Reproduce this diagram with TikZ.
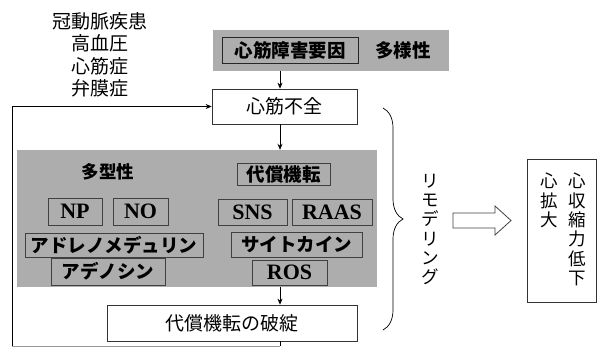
\documentclass[tikz,border=0pt]{standalone}
\usepackage{fontspec}
\setmainfont{Liberation Serif}
\newfontfamily\jp{Noto Sans CJK JP}
\usetikzlibrary{arrows.meta,decorations.pathreplacing}
\definecolor{halftone}{gray}{0.68}
\tikzset{
  arr/.style={-{Stealth[length=6pt,width=5pt]}, line width=0.7pt},
  whitebox/.style={draw=black!80, line width=0.7pt, fill=white, inner sep=0pt, font=\jp\fontsize{19}{20}\selectfont},
  graybg/.style={fill=halftone, draw=none, inner sep=0pt},
  graybox/.style={draw=black!75, line width=0.8pt, fill=halftone, inner sep=0pt, font=\jp\bfseries\fontsize{18.5}{20}\selectfont},
  latinbox/.style={draw=black!75, line width=0.8pt, fill=halftone, inner sep=0pt, font=\bfseries\fontsize{22}{22}\selectfont},
  vtext/.style={align=center, inner sep=0pt, font=\jp\fontsize{17.5}{19.3}\selectfont},
}
\begin{document}
\begin{tikzpicture}[x=1pt,y=-1pt]
\useasboundingbox (0,0) rectangle (597,347);

% causes list
\node[align=center, inner sep=0pt, font=\jp\fontsize{19}{22.5}\selectfont] (causes) at (100,55)
  {冠動脈疾患\\高血圧\\心筋症\\弁膜症};

% top band
\node[graybg, minimum width=236pt, minimum height=41pt] (band) at (331,50.5) {};
\node[graybox, draw=black!85, minimum width=136pt, minimum height=26pt] (factor) at (290,50) {心筋障害要因};
\node[inner sep=0pt, font=\jp\bfseries\fontsize{18.5}{20}\selectfont] (diverse) at (403,50) {多様性};

% heart failure
\node[whitebox, minimum width=145pt, minimum height=35pt] (hf) at (284.5,106.5) {心筋不全};

% big gray panel
\node[graybg, minimum width=360pt, minimum height=137pt] (panel) at (197,218.5) {};
\node[inner sep=0pt, font=\jp\bfseries\fontsize{17.5}{20}\selectfont] (poly) at (108,172) {多型性};
\node[graybox, minimum width=93pt, minimum height=22pt] (comp) at (283.5,174) {代償機転};
\node[latinbox, minimum width=54pt, minimum height=27pt] (np) at (75,211.5) {NP};
\node[latinbox, minimum width=55pt, minimum height=27pt] (no) at (140.5,211.5) {NO};
\node[graybox, minimum width=178pt, minimum height=24pt] (adm) at (114,245) {アドレノメデュリン};
\node[graybox, minimum width=114pt, minimum height=27pt] (ade) at (108,271.5) {アデノシン};
\node[latinbox, minimum width=69pt, minimum height=26pt] (sns) at (252.5,212) {SNS};
\node[latinbox, minimum width=80pt, minimum height=26pt] (raas) at (332,212) {RAAS};
\node[graybox, minimum width=131pt, minimum height=25pt] (cyto) at (296.5,244.5) {サイトカイン};
\node[latinbox, minimum width=75pt, minimum height=25pt] (ros) at (289.5,272.5) {ROS};

% failure of compensation
\node[whitebox, minimum width=250pt, minimum height=36pt] (fail) at (232,323) {代償機転の破綻};

% connectors
\coordinate (ax) at (280,0);
\coordinate (loopL) at (12,346);
\coordinate (loopR) at (280,346);
\draw[arr] (band.south -| ax) -- (hf.north -| ax);
\draw[arr] (hf.south -| ax) -- (panel.north -| ax);
\draw[arr] (panel.south -| ax) -- (fail.north -| ax);
\draw[line width=0.7pt] (fail.south -| ax) -- (loopR);
\draw[line width=0.6pt, black!40] (loopR) -- (loopL);
\draw[arr] (loopL) -- (loopL |- hf.west) -- (hf.west);

% brace
\coordinate (bt) at (383,108);
\coordinate (bb) at (383,330);
\draw[line width=0.7pt, decorate, decoration={brace, amplitude=20pt}] (bt) -- (bb);

% remodeling
\node[vtext] (remo) at (430,229.5) {リ\\モ\\デ\\リ\\ン\\グ};

% hollow arrow
\draw[line width=0.8pt, black!75] (453,213) coordinate (ha) -- (495,213) -- (495,206) -- (511,220.5) -- (495,235) -- (495,228) -- (453,228) -- cycle;

% result box
\node[draw=black!80, line width=0.7pt, minimum width=69pt, minimum height=143pt, inner sep=0pt] (res) at (561.5,230.5) {};
\node[vtext] (contr) at (577,229.5) {心\\収\\縮\\力\\低\\下};
\node[vtext] (dil) at (549,200.5) {心\\拡\\大};
\end{tikzpicture}
\end{document}
